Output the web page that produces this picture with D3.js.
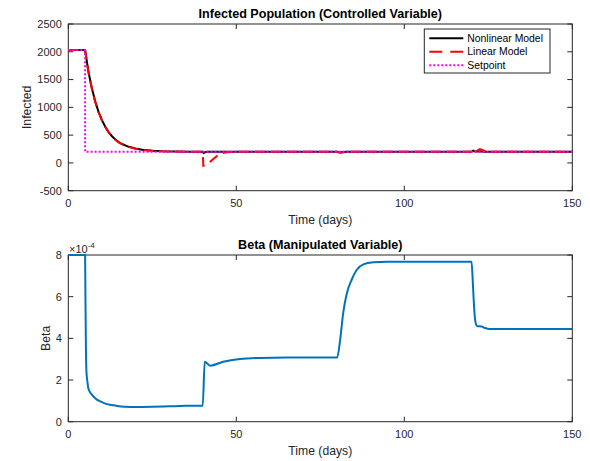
<!DOCTYPE html>
<meta charset="utf-8">
<style>
    body { margin: 0; background: #fff; }
    svg { font-family: "Liberation Sans", Arial, Helvetica, sans-serif; }
    .tick-label { font-size: 11px; fill: #262626; }
    .axis-title { font-size: 12.2px; fill: #262626; }
    .plot-title { font-size: 12.6px; font-weight: bold; fill: #000; }
    .legend text { font-size: 10.4px; fill: #000; }
</style>

<svg width="590" height="461"></svg>

<script src="https://cdn.jsdelivr.net/npm/d3@7"></script>

<script>
    // values: [time (days), value]
    var nonlinearModel = [
        [0, 2030], [5, 2030], [6, 1640], [7, 1350], [8, 1110], [9, 920], [10, 770],
        [11, 650], [12, 555], [13, 480], [14, 420], [15, 375], [16, 340], [18, 290],
        [20, 258], [22, 238], [25, 220], [28, 211], [32, 205], [36, 202], [40, 200],
        [40.3, 178], [40.8, 195], [41.5, 200], [80, 200], [80.8, 186], [81.5, 195],
        [83, 200], [120, 200], [120.5, 222], [121, 205], [122.5, 212], [123.5, 203],
        [150, 200]
    ];
    var linearModel = [
        [0, 2030], [5, 2030], [6, 1630], [7, 1340], [8, 1100], [9, 915], [10, 765],
        [11, 645], [12, 550], [13, 475], [14, 415], [15, 370], [16, 337], [18, 288],
        [20, 256], [22, 236], [25, 219], [28, 210], [32, 204], [36, 201], [40, 200],
        [40.2, -50], [42, 10], [43.5, 90], [45, 160], [47, 192], [50, 200],
        [80, 200], [81, 182], [82.5, 195], [84, 200], [120, 200], [120.4, 240],
        [121.2, 205], [122.5, 250], [124, 215], [125, 203], [150, 200]
    ];
    var setpoint = [
        [0, 2030], [5, 2030], [5, 200], [150, 200]
    ];
    // beta in units of 1e-4
    var beta = [
        [0, 8], [5, 8], [5.1, 6], [5.25, 3.5], [5.4, 2.4], [5.7, 1.9], [6, 1.58],
        [7, 1.3], [8, 1.13], [9.7, 0.96], [11, 0.87], [13, 0.8], [15, 0.74],
        [17, 0.72], [20, 0.71], [25, 0.72], [30, 0.74], [35, 0.76], [40, 0.77],
        [40.6, 2.88], [42.2, 2.69], [46.1, 2.88], [51.1, 3.01], [57, 3.06],
        [65, 3.08], [80, 3.08], [80.9, 3.92], [81.8, 5.2], [82.9, 6.16],
        [84.3, 6.8], [85.8, 7.28], [87.8, 7.55], [90.8, 7.65], [95, 7.68],
        [120, 7.68], [120.3, 7.0], [120.6, 6.0], [121, 5.0], [121.3, 4.7],
        [121.7, 4.58], [123, 4.57], [124, 4.5], [125.5, 4.45], [150, 4.45]
    ];

    var xTicks = [0, 50, 100, 150];
    var infectedTicks = [-500, 0, 500, 1000, 1500, 2000, 2500];
    var betaTicks = [0, 2, 4, 6, 8];
    var legendNames = ["Nonlinear Model", "Linear Model", "Setpoint"];

    var svg = d3.select("svg"),
        left = 68.3,
        right = 572.3,
        tickLen = 5;

    var x = d3.scaleLinear().domain([0, 150]).range([left, right]);
    var yTop = d3.scaleLinear().domain([-500, 2500]).range([190.7, 24]);
    var yBot = d3.scaleLinear().domain([0, 8]).range([421.7, 255]);

    function drawAxes(y, yTicks, title, ylabel, ylabelX) {
        var top = y.range()[1], bottom = y.range()[0];
        var g = svg.append("g");

        xTicks.forEach(function (t) {
            g.append("line").attr("x1", x(t)).attr("x2", x(t))
                .attr("y1", bottom).attr("y2", bottom - tickLen)
                .attr("stroke", "#262626");
            g.append("line").attr("x1", x(t)).attr("x2", x(t))
                .attr("y1", top).attr("y2", top + tickLen)
                .attr("stroke", "#262626");
            g.append("text").attr("class", "tick-label")
                .attr("x", x(t)).attr("y", bottom + 16.5)
                .attr("text-anchor", "middle").text(t);
        });
        yTicks.forEach(function (t) {
            g.append("line").attr("x1", left).attr("x2", left + tickLen)
                .attr("y1", y(t)).attr("y2", y(t)).attr("stroke", "#262626");
            g.append("line").attr("x1", right).attr("x2", right - tickLen)
                .attr("y1", y(t)).attr("y2", y(t)).attr("stroke", "#262626");
            g.append("text").attr("class", "tick-label")
                .attr("x", left - 6.5).attr("y", y(t)).attr("dy", "0.35em")
                .attr("text-anchor", "end").text(t);
        });
        g.append("rect").attr("x", left).attr("y", top)
            .attr("width", right - left).attr("height", bottom - top)
            .attr("fill", "none").attr("stroke", "#262626");

        g.append("text").attr("class", "plot-title")
            .attr("x", (left + right) / 2).attr("y", top - 6.5)
            .attr("text-anchor", "middle").text(title);
        g.append("text").attr("class", "axis-title")
            .attr("x", (left + right) / 2).attr("y", bottom + 33.3)
            .attr("text-anchor", "middle").text("Time (days)");
        g.append("text").attr("class", "axis-title")
            .attr("transform", "translate(" + [ylabelX, (top + bottom) / 2] + ") rotate(-90)")
            .attr("text-anchor", "middle").text(ylabel);
    }

    function addLine(data, y, color, width, dash) {
        var line = d3.line()
            .x(function (d) { return x(d[0]); })
            .y(function (d) { return y(d[1]); });
        var p = svg.append("path").datum(data)
            .attr("d", line)
            .attr("fill", "none")
            .attr("stroke", color)
            .attr("stroke-width", width);
        if (dash) p.attr("stroke-dasharray", dash);
        return p;
    }

    drawAxes(yTop, infectedTicks, "Infected Population (Controlled Variable)", "Infected", 31);
    drawAxes(yBot, betaTicks, "Beta (Manipulated Variable)", "Beta", 50);

    // top plot lines
    addLine(nonlinearModel, yTop, "#000000", 2);
    addLine(linearModel, yTop, "#ff0000", 2, "10,6");
    addLine(setpoint, yTop, "#ff00ff", 2, "2,2");

    // bottom plot line
    var betaLine = d3.line()
        .x(function (d) { return x(d[0]); })
        .y(function (d) { return yBot(d[1]); })
        .curve(d3.curveMonotoneX);
    svg.append("path").datum(beta)
        .attr("d", betaLine)
        .attr("fill", "none")
        .attr("stroke", "#0072bd")
        .attr("stroke-width", 2);

    // exponent label
    var ex = svg.append("text").attr("class", "tick-label")
        .attr("x", 69).attr("y", 252.5);
    ex.append("tspan").text("\u00d710");
    ex.append("tspan").attr("font-size", "8px").attr("dy", -5).text("-4");

    // legend
    var legend = svg.append("g").attr("class", "legend");
    legend.append("rect").attr("x", 424.3).attr("y", 29)
        .attr("width", 125.7).attr("height", 44)
        .attr("fill", "#fff").attr("stroke", "#262626");
    var legendStyles = [
        { color: "#000000", dash: null },
        { color: "#ff0000", dash: "13,8" },
        { color: "#ff00ff", dash: "2,2" }
    ];
    legendNames.forEach(function (name, i) {
        var yy = 38.3 + i * 13.5;
        var l = legend.append("line").attr("x1", 429.3).attr("x2", 463.3)
            .attr("y1", yy).attr("y2", yy)
            .attr("stroke", legendStyles[i].color).attr("stroke-width", 2);
        if (legendStyles[i].dash) l.attr("stroke-dasharray", legendStyles[i].dash);
        legend.append("text").attr("x", 467.3).attr("y", yy).attr("dy", "0.35em").text(name);
    });
</script>
